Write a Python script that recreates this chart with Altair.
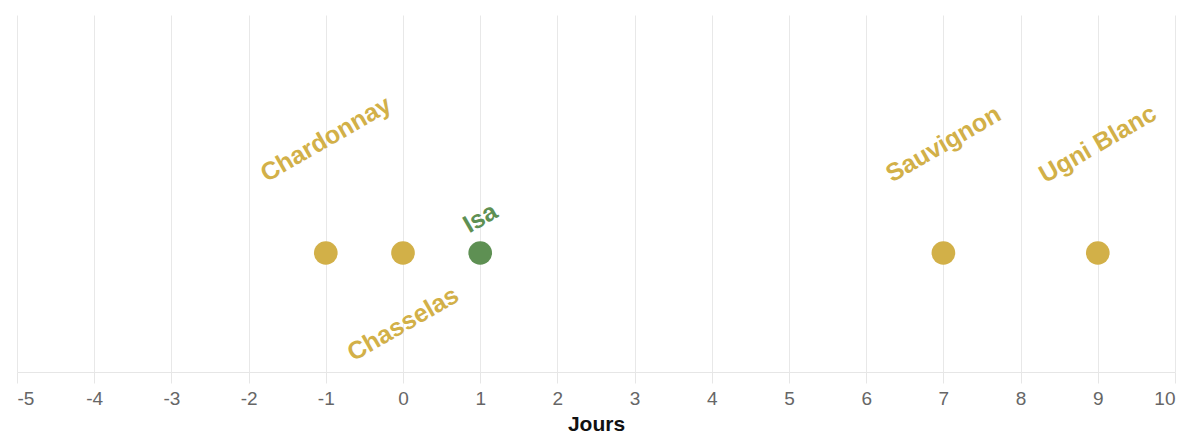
import math
import altair as alt
import pandas as pd

# --- data ---
cepages = ["Chardonnay", "Chasselas", "Isa", "Sauvignon", "Ugni Blanc"]
jours = [-1, 0, 1, 7, 9]
groupes = ["vinifera", "vinifera", "hybride", "vinifera", "vinifera"]
axis_ticks = list(range(-5, 11))

df = pd.DataFrame({"cepage": cepages, "jours": jours, "groupe": groupes})

# --- style ---
GOLD = "#D2B048"
GREEN = "#5E9053"
ANGLE = -30
LABEL_SHIFT = {"Chardonnay": -114, "Chasselas": 71, "Isa": -35,
               "Sauvignon": -109, "Ugni Blanc": -109}

color_scale = alt.Scale(domain=["vinifera", "hybride"], range=[GOLD, GREEN])
x_enc = alt.X("jours:Q", title="Jours",
              scale=alt.Scale(domain=[-5, 10], nice=False, zero=False),
              axis=alt.Axis(values=axis_ticks, labelExpr="'' + datum.value",
                            labelFontSize=19, labelColor="#666666",
                            labelFont="Liberation Sans", labelPadding=6,
                            tickSize=11, tickColor="#e6e6e6",
                            domainColor="#e6e6e6", gridColor="#e8e8e8",
                            titleFont="Liberation Sans", titleFontSize=21,
                            titleFontWeight="bold", titleColor="#111111",
                            titlePadding=5))
y_enc = alt.Y(datum=0, scale=alt.Scale(domain=[-1, 2]), axis=None)

base = alt.Chart(df)
points = base.mark_circle(size=560, opacity=1).encode(
    x=x_enc, y=y_enc,
    color=alt.Color("groupe:N", scale=color_scale, legend=None))

layers = [points]
a = math.radians(ANGLE)
for name, shift in LABEL_SHIFT.items():
    # offset expressed in the rotated text frame so it is purely vertical on screen
    rdx = shift * math.sin(a)
    rdy = shift * math.cos(a)
    layers.append(
        base.transform_filter(alt.datum.cepage == name).mark_text(
            angle=360 + ANGLE, fontSize=25, fontWeight="bold",
            font="Liberation Sans", align="center", baseline="middle",
            dx=rdx, dy=rdy).encode(
            x=x_enc, y=y_enc, text="cepage:N",
            color=alt.Color("groupe:N", scale=color_scale, legend=None)))

chart = alt.layer(*layers).properties(
    width=1158, height=357,
    autosize=alt.AutoSizeParams(type="none"),
    padding={"left": 9, "top": 7, "right": 9, "bottom": 66},
).configure_view(strokeWidth=0)

chart.save("out.html", embed_options={"renderer": "svg", "actions": False})
